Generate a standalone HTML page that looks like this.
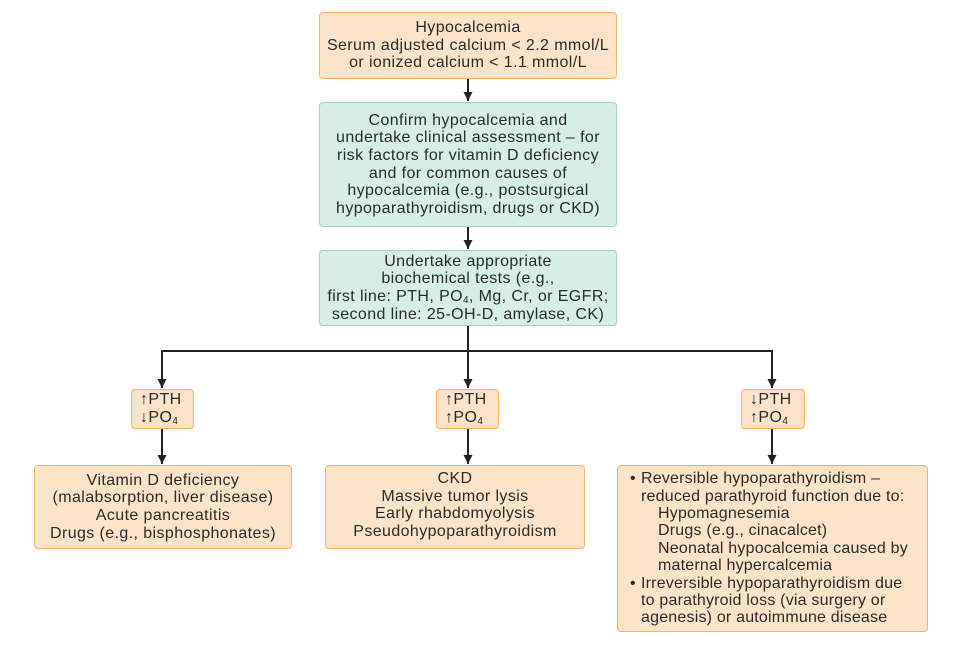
<!DOCTYPE html>
<html><head><style>
body{margin:0;width:959px;height:659px;background:#fff;position:relative;overflow:hidden;font-family:"Liberation Sans",sans-serif;color:#2b2b2b}
.b{position:absolute;box-sizing:border-box;border-radius:4px;text-align:center;font-size:16px;letter-spacing:0.4px;line-height:17.6px;display:flex;flex-direction:column;justify-content:center;white-space:nowrap}
.o{background:#fde4c9;border:1.5px solid #f3b169}
.g{background:#d6eee6;border:1.5px solid #a2d3c2}
sub{font-size:10px;vertical-align:-2px;line-height:0}
svg{position:absolute;left:0;top:0}
</style></head><body>
<svg width="959" height="659">
<defs><marker id="a" markerWidth="9" markerHeight="9" refX="9" refY="4.5" orient="auto" markerUnits="userSpaceOnUse"><path d="M0,0 L9,4.5 L0,9 Z" fill="#222"/></marker></defs>
<g stroke="#222" stroke-width="2" fill="none">
<line x1="468" y1="79" x2="468" y2="101" marker-end="url(#a)"/>
<line x1="468" y1="227" x2="468" y2="249" marker-end="url(#a)"/>
<line x1="468" y1="326" x2="468" y2="388" marker-end="url(#a)"/>
<polyline points="162,388 162,351 772,351 772,388" marker-end="url(#a)"/>
<line x1="162" y1="351" x2="162" y2="388" marker-end="url(#a)"/>
<line x1="162" y1="429" x2="162" y2="464" marker-end="url(#a)"/>
<line x1="468" y1="429" x2="468" y2="464" marker-end="url(#a)"/>
<line x1="772" y1="429" x2="772" y2="464" marker-end="url(#a)"/>
</g></svg>
<div class="b o" style="left:319px;top:12px;width:298px;height:67px"><div>Hypocalcemia<br>Serum adjusted calcium &lt; 2.2 mmol/L<br>or ionized calcium &lt; 1.1 mmol/L</div></div>
<div class="b g" style="left:319px;top:102px;width:298px;height:125px"><div>Confirm hypocalcemia and<br>undertake clinical assessment – for<br>risk factors for vitamin D deficiency<br>and for common causes of<br>hypocalcemia (e.g., postsurgical<br>hypoparathyroidism, drugs or CKD)</div></div>
<div class="b g" style="left:319px;top:250px;width:298px;height:76px"><div>Undertake appropriate<br>biochemical tests (e.g.,<br>first line: PTH, PO<sub>4</sub>, Mg, Cr, or EGFR;<br>second line: 25-OH-D, amylase, CK)</div></div>
<div class="b o" style="left:131px;top:389px;width:63px;height:40px;text-align:left;padding-left:8px"><div>↑PTH<br>↓PO<sub>4</sub></div></div>
<div class="b o" style="left:436px;top:389px;width:63px;height:40px;text-align:left;padding-left:8px"><div>↑PTH<br>↑PO<sub>4</sub></div></div>
<div class="b o" style="left:741px;top:389px;width:64px;height:40px;text-align:left;padding-left:8px"><div>↓PTH<br>↑PO<sub>4</sub></div></div>
<div class="b o" style="left:34px;top:465px;width:258px;height:84px"><div>Vitamin D deficiency<br>(malabsorption, liver disease)<br>Acute pancreatitis<br>Drugs (e.g., bisphosphonates)</div></div>
<div class="b o" style="left:325px;top:465px;width:260px;height:84px;justify-content:flex-start;padding-top:4px"><div>CKD<br>Massive tumor lysis<br>Early rhabdomyolysis<br>Pseudohypoparathyroidism</div></div>
<div class="b o" style="left:617px;top:465px;width:311px;height:167px;text-align:left;padding-left:23px;line-height:17.4px;letter-spacing:0.2px">
<div style="position:relative"><span style="position:absolute;left:-11px">•</span>Reversible hypoparathyroidism –<br>reduced parathyroid function due to:<br><span style="padding-left:17px">Hypomagnesemia</span><br><span style="padding-left:17px">Drugs (e.g., cinacalcet)</span><br><span style="padding-left:17px">Neonatal hypocalcemia caused by</span><br><span style="padding-left:17px">maternal hypercalcemia</span></div>
<div style="position:relative"><span style="position:absolute;left:-11px">•</span>Irreversible hypoparathyroidism due<br>to parathyroid loss (via surgery or<br>agenesis) or autoimmune disease</div>
</div>
</body></html>
